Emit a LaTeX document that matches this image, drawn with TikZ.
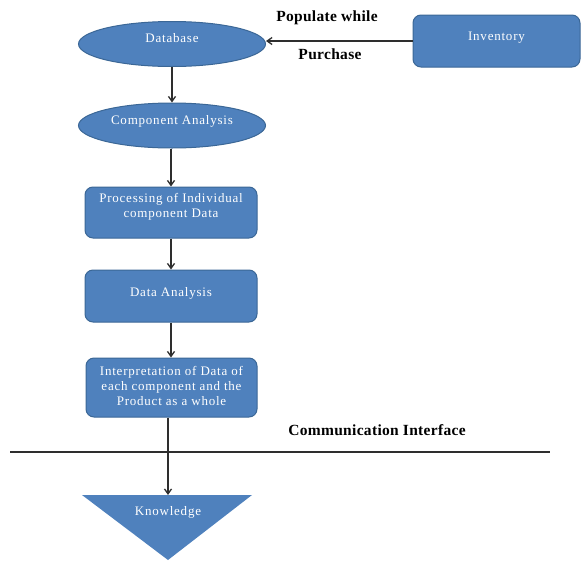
\documentclass[tikz,border=0pt]{standalone}
\usepackage{fontspec}
\setmainfont{Liberation Serif}
\newfontfamily\boxfont[LetterSpace=6]{Liberation Serif}
\newfontfamily\lblfont[LetterSpace=2]{Liberation Serif}
\usetikzlibrary{shapes.geometric,arrows.meta}
\definecolor{boxfill}{HTML}{4F81BD}
\definecolor{boxline}{HTML}{3B6796}
\definecolor{arr}{HTML}{2E2E2E}
\begin{document}
\begin{tikzpicture}[x=1pt,y=-1pt,
  ell/.style={ellipse,draw=boxline,fill=boxfill,line width=1pt,minimum width=187pt,minimum height=45pt,inner sep=0pt,text=white,font=\boxfont\fontsize{13}{15}\selectfont},
  rbox/.style={rectangle,rounded corners=8pt,draw=boxline,fill=boxfill,line width=1pt,inner sep=0pt,text=white,align=center,font=\boxfont\fontsize{13}{15}\selectfont},
  conn/.style={draw=arr,line width=1.3pt,-{Straight Barb[length=5pt,width=7pt]}},
  lbl/.style={font=\lblfont\fontsize{15.5}{17}\selectfont\bfseries,text=black}]
\useasboundingbox (0,0) rectangle (581,560);
\node[ell] (db) at (172,44) {\raisebox{2pt}[0pt][0pt]{Database}};
\node[ell] (ca) at (172,125.5) {\raisebox{1pt}[0pt][0pt]{Component Analysis}};
\node[rbox,minimum width=167pt,minimum height=52pt] (inv) at (496.5,41) {\raisebox{1pt}[0pt][0pt]{Inventory}};
\node[rbox,minimum width=172pt,minimum height=51pt] (proc) at (171,212.5) {\raisebox{3pt}[0pt][0pt]{\begin{tabular}{@{}c@{}}Processing of Individual\\component Data\end{tabular}}};
\node[rbox,minimum width=172pt,minimum height=52pt] (da) at (171,296) {\raisebox{0pt}[0pt][0pt]{Data Analysis}};
\node[rbox,minimum width=171pt,minimum height=59pt] (interp) at (171.5,387.5) {\raisebox{1pt}{\begin{tabular}{@{}c@{}}Interpretation of Data of\\each component and the\\Product as a whole\end{tabular}}};
\coordinate (kn) at (168,495);
\fill[boxfill] (82,495) -- (252,495) -- (168,560) -- cycle;
\node[text=white,font=\boxfont\fontsize{13}{15}\selectfont] (kntext) at (168,512) {Knowledge};
\node[lbl] (pw) at (327,18) {Populate while};
\node[lbl] (pu) at (330,54) {Purchase};
\node[lbl] (ci) at (377,430) {Communication Interface};
\coordinate (ls) at (10,452);
\coordinate (le) at (550,452);
\draw[draw=arr,line width=1.1pt] (ls) -- (le);
\draw[conn] (inv.west) -- (db.east |- inv.west);
\draw[conn] (db.south) -- (ca.north);
\draw[conn] (ca.south -| proc.north) -- (proc.north);
\draw[conn] (proc.south) -- (da.north);
\draw[conn] (da.south) -- (da.south |- interp.north);
\draw[conn] (interp.south -| kn) -- (kn);
\end{tikzpicture}
\end{document}
